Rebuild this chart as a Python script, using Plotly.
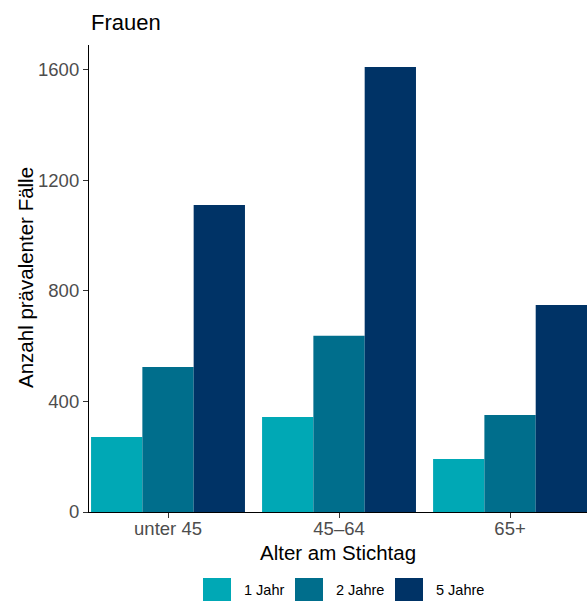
import plotly.graph_objects as go

# Prevalent cases among women by age group and observation period
age_groups = ["unter 45", "45–64", "65+"]
periods = ["1 Jahr", "2 Jahre", "5 Jahre"]
cases_1y = [271, 344, 192]
cases_2y = [525, 638, 351]
cases_5y = [1111, 1610, 749]
colors = ["#00A8B5", "#006E8C", "#003366"]

series = [cases_1y, cases_2y, cases_5y]

W, H = 587, 601
L, R, T, B = 89, 0, 45, 89
pw, ph = W - L - R, H - T - B


def px(x):
    return (x - L) / pw


def py(y):
    return (H - B - y) / ph


fig = go.Figure()
for name, vals, col in zip(periods, series, colors):
    fig.add_trace(go.Bar(x=age_groups, y=vals, name=name, marker_color=col,
                         marker_line_width=0, showlegend=False))

font = "Liberation Sans, Arial, sans-serif"

fig.update_layout(
    width=W, height=H,
    margin=dict(l=L, r=R, t=T, b=B),
    paper_bgcolor="white", plot_bgcolor="white",
    barmode="group", bargap=0.1, bargroupgap=0,
    font=dict(family=font),
    xaxis=dict(range=[-0.462, 2.45], showline=True, linecolor="black", linewidth=1.2,
               ticks="outside", ticklen=5, tickcolor="#333333", ticklabelstandoff=-5,
               tickfont=dict(size=18.5, color="#4d4d4d"), showgrid=False, zeroline=False),
    yaxis=dict(range=[0, 1690], tickvals=[0, 400, 800, 1200, 1600], showline=True,
               linecolor="black", linewidth=1.2, ticks="outside", ticklen=5,
               tickcolor="#333333", tickfont=dict(size=18.5, color="#4d4d4d"),
               showgrid=False, zeroline=False),
)

# Title and axis titles
fig.add_annotation(text="Frauen", x=px(89), y=py(22), xref="paper", yref="paper",
                   xanchor="left", yanchor="middle", showarrow=False,
                   font=dict(size=22, color="black"))
fig.add_annotation(text="Alter am Stichtag", x=px(338), y=py(552), xref="paper", yref="paper",
                   xanchor="center", yanchor="middle", showarrow=False,
                   font=dict(size=20.5, color="black"))
fig.add_annotation(text="Anzahl prävalenter Fälle", x=px(25), y=py(278), xref="paper",
                   yref="paper", xanchor="center", yanchor="middle", textangle=-90,
                   showarrow=False, font=dict(size=20.5, color="black"))

# Legend at the bottom: colored keys with labels
key_left = [203, 295, 395]
for name, col, kx in zip(periods, colors, key_left):
    fig.add_shape(type="rect", xref="paper", yref="paper",
                  x0=px(kx), x1=px(kx + 28), y0=py(578), y1=py(602),
                  fillcolor=col, line_width=0)
    fig.add_annotation(text=name, x=px(kx + 39), y=py(590), xref="paper", yref="paper",
                       xanchor="left", yanchor="middle", showarrow=False,
                       font=dict(size=14.5, color="black"))

fig.write_html("out.html")
